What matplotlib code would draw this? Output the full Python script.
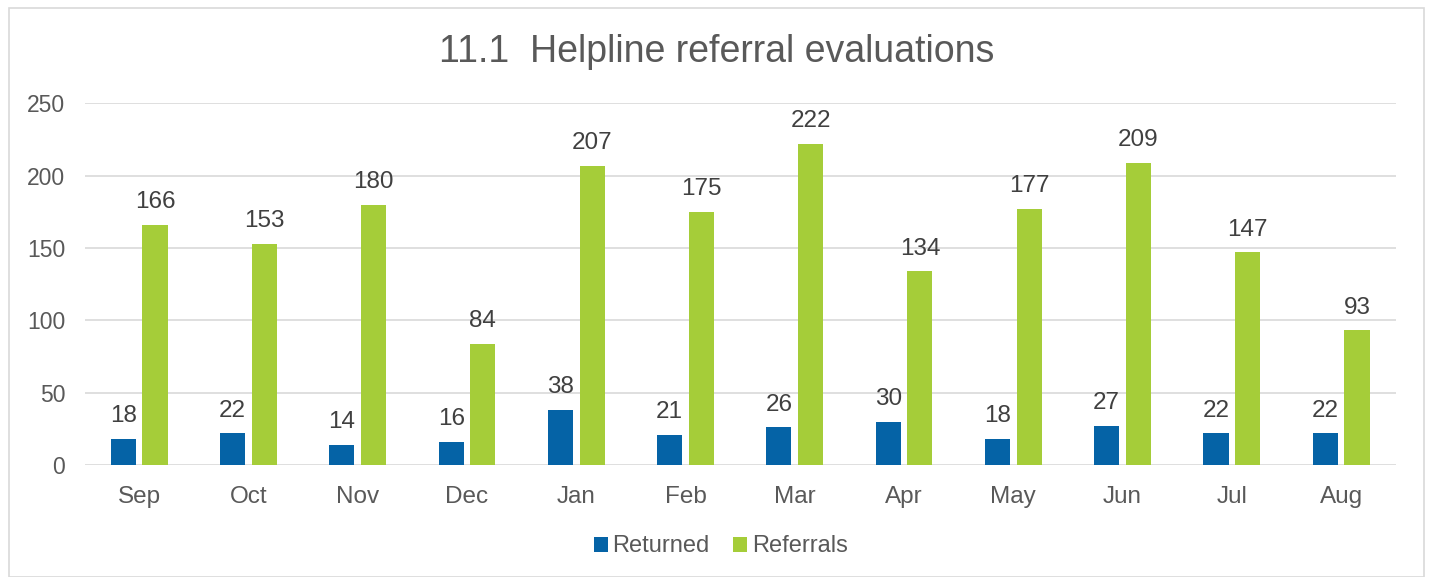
import matplotlib
matplotlib.use("Agg")
import matplotlib.pyplot as plt
import numpy as np
from matplotlib.patches import Rectangle

months = ["Sep", "Oct", "Nov", "Dec", "Jan", "Feb", "Mar", "Apr", "May", "Jun", "Jul", "Aug"]
returned = [18, 22, 14, 16, 38, 21, 26, 30, 18, 27, 22, 22]
referrals = [166, 153, 180, 84, 207, 175, 222, 134, 177, 209, 147, 93]

blue = "#0563a6"
green = "#a5cd39"
grey = "#595959"

plt.rcParams["font.family"] = ["Liberation Sans", "DejaVu Sans"]

fig = plt.figure(figsize=(14.33, 5.77), dpi=100)
fig.patches.append(Rectangle((0.006, 0.0), 0.988, 0.986, transform=fig.transFigure,
                             fill=False, edgecolor="#d9d9d9", linewidth=1.2))
ax = fig.add_axes([0.059, 0.194, 0.915, 0.627])

x = np.arange(len(months))
w = 0.23
b1 = ax.bar(x - 0.145, returned, w, color=blue, label="Returned")
b2 = ax.bar(x + 0.145, referrals, w, color=green, label="Referrals")

for bars in (b1, b2):
    for r in bars:
        ax.text(r.get_x() + r.get_width() / 2, r.get_height() + 8, str(int(r.get_height())),
                ha="center", va="bottom", fontsize=17.5, color="#404040")

ax.set_xlim(-0.5, len(months) - 0.5)
ax.set_ylim(0, 250)
ax.set_yticks(range(0, 251, 50))
ax.set_xticks(x)
ax.set_xticklabels(months)
ax.tick_params(axis="x", length=0, labelsize=17.5, colors=grey, pad=15)
ax.tick_params(axis="y", length=0, labelsize=16.5, colors=grey, pad=14)
ax.grid(axis="y", color="#d9d9d9", linewidth=1.2)
ax.set_axisbelow(True)
for s in ax.spines.values():
    s.set_visible(False)

fig.text(0.5, 0.91, "11.1  Helpline referral evaluations", ha="center", va="center",
         fontsize=27, color=grey)
fig.legend(handles=[b1, b2], loc="center", bbox_to_anchor=(0.503, 0.053), ncol=2,
           frameon=False, fontsize=17, labelcolor=grey, handlelength=0.6, handleheight=0.6,
           handletextpad=0.2, columnspacing=1.0)

fig.savefig("out.png", dpi=100)
